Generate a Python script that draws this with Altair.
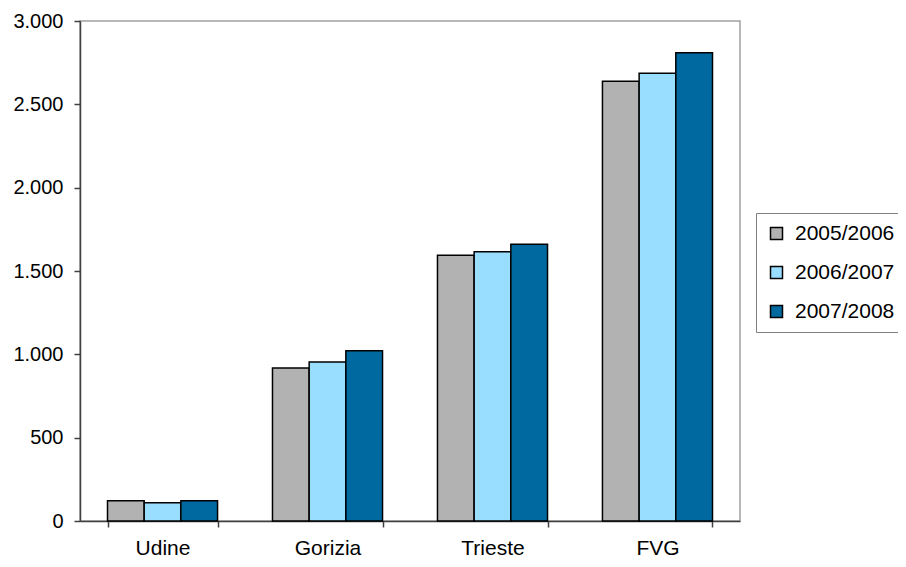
import altair as alt
import pandas as pd

categories = ["Udine", "Gorizia", "Trieste", "FVG"]
years = ["2005/2006", "2006/2007", "2007/2008"]
v_2005 = [122, 918, 1594, 2638]
v_2006 = [110, 954, 1616, 2686]
v_2007 = [122, 1022, 1660, 2810]
colors = ["#B2B2B2", "#99DDFF", "#006AA0"]
y_ticks = [0, 500, 1000, 1500, 2000, 2500, 3000]

rows = []
for yr, vals in zip(years, [v_2005, v_2006, v_2007]):
    for c, v in zip(categories, vals):
        rows.append({"cat": c, "year": yr, "value": v})
df = pd.DataFrame(rows)

font = "Liberation Sans"

chart = alt.Chart(df).mark_bar(stroke="black", strokeWidth=1.5).encode(
    x=alt.X("cat:N", sort=categories, title=None,
            scale=alt.Scale(paddingInner=0.333, paddingOuter=0.1667),
            axis=alt.Axis(labelAngle=0, tickBand="extent", tickSize=6,
                          domainColor="#404040", tickColor="#404040",
                          domainWidth=1.5, tickWidth=1.5,
                          labelFont=font, labelFontSize=21, labelColor="black",
                          labelPadding=10)),
    xOffset=alt.XOffset("year:N", sort=years, scale=alt.Scale(paddingInner=0, paddingOuter=0)),
    y=alt.Y("value:Q", title=None,
            scale=alt.Scale(domain=[0, 3000], nice=False),
            axis=alt.Axis(values=y_ticks, grid=False, tickSize=6,
                          domainColor="#404040", tickColor="#404040",
                          domainWidth=1.5, tickWidth=1.5,
                          labelFont=font, labelFontSize=20, labelColor="black",
                          labelPadding=11,
                          labelExpr="replace(format(datum.value, ','), ',', '.')")),
    color=alt.Color("year:N", sort=years, title=None,
                    scale=alt.Scale(domain=years, range=colors),
                    legend=alt.Legend(orient="none", legendX=676, legendY=192,
                                      symbolType="square", symbolSize=144,
                                      symbolStrokeColor="black", symbolStrokeWidth=1.5,
                                      labelFont=font, labelFontSize=21, labelColor="black",
                                      rowPadding=17, padding=10, labelOffset=8,
                                      fillColor="white", strokeColor="#808080")),
).properties(
    width=660, height=500,
    autosize=alt.AutoSizeParams(type="none"),
    padding={"left": 72, "top": 13, "right": 158, "bottom": 38},
).configure_view(
    stroke="#A0A0A0", strokeWidth=1.5
)

chart.save("out.html", embed_options={"renderer": "svg", "actions": False})
